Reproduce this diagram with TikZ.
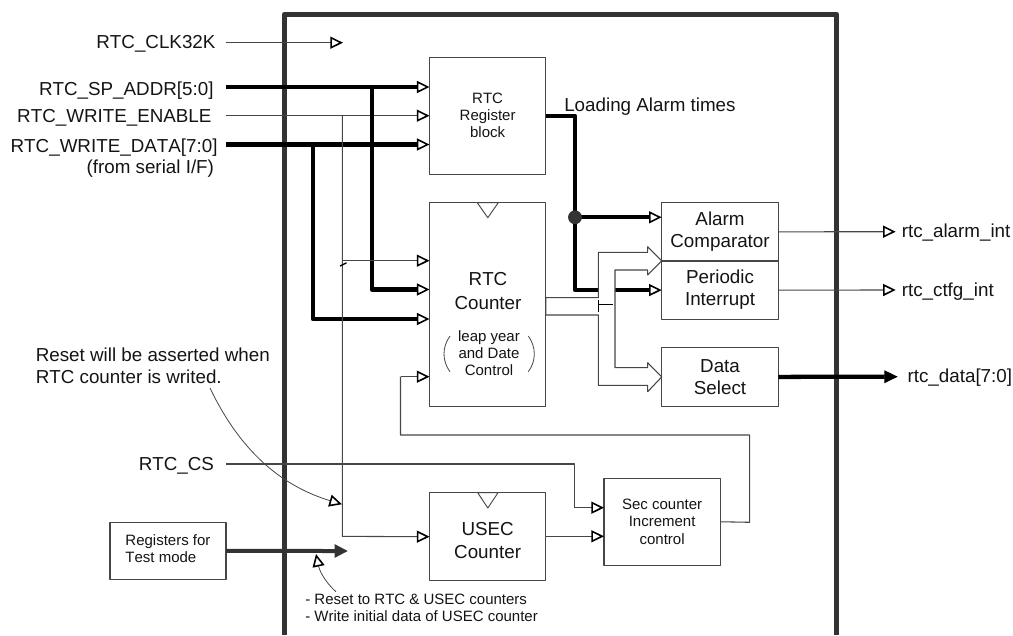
\documentclass[tikz,border=0pt]{standalone}
\usepackage{fontspec}
\setmainfont[Kerning=Off]{Liberation Sans}
\usetikzlibrary{arrows.meta,positioning,calc}
\definecolor{framegray}{RGB}{51,51,51}
\definecolor{wiregray}{RGB}{70,70,70}
\definecolor{inkblack}{RGB}{20,20,20}

\begin{document}
\begin{tikzpicture}[x=0.75pt, y=-0.75pt, line join=round,
    opentip/.tip={Triangle[open, length=9.5pt, width=9pt, line width=1.2pt, black]},
    solidtip/.tip={Triangle[length=10pt, width=9.5pt, line width=0.8pt]},
    blockbox/.style={draw=wiregray, line width=0.8pt, fill=white, inner sep=0pt, outer sep=0pt, align=center, text=inkblack},
    bigtext/.style={font=\fontsize{14.1}{16.5}\selectfont, text=inkblack},
    smalltext/.style={font=\fontsize{11.25}{12.8}\selectfont, text=inkblack},
    sigwire/.style={draw=wiregray, line width=0.8pt},
    sigarrow/.style={sigwire, -opentip},
    buswire/.style={draw=black, line width=3.2pt},
    busarrow/.style={buswire, -opentip},
    biglabel/.style={bigtext, inner sep=0pt, outer sep=0pt, anchor=base east},
    clocktri/.style={draw=wiregray, line width=0.7pt, fill=white}]
  \useasboundingbox (0,0) rectangle (1013,635);
  \draw[framegray, line width=4.2pt] (284.5,635) -- (284.5,14.5) -- (836.5,14.5) -- (836.5,635);

  \node[blockbox, smalltext, anchor=north west, minimum width=87.2pt, minimum height=87.4pt] (regbox) at (429.5,57.5) {RTC\\Register\\block};
  \node[blockbox, below=21.5pt of regbox, minimum width=87.2pt, minimum height=152.5pt] (cntbox) {};
  \node[blockbox, below=65pt of cntbox, minimum width=87.2pt, minimum height=65.5pt] (usecbox) {};
  \node[blockbox, smalltext, anchor=north west, minimum width=87.2pt, minimum height=65.2pt] (secbox) at (604,478.3) {Sec counter\\Increment\\control};
  \node[blockbox, bigtext, anchor=north west, minimum width=87.5pt, minimum height=43.7pt] (alarmbox) at (661.7,202.7) {Alarm\\Comparator};
  \node[blockbox, bigtext, below=0pt of alarmbox, minimum width=87.5pt, minimum height=43.7pt] (periodbox) {Periodic\\Interrupt};
  \node[blockbox, bigtext, below=21.4pt of periodbox, minimum width=87.5pt, minimum height=43.7pt] (selbox) {Data\\Select};
  \node[blockbox, smalltext, anchor=north west, minimum width=87pt, minimum height=43pt] (testbox) at (110,522.3) {\begin{tabular}{@{}l@{}}Registers for\\Test mode\end{tabular}};

  \node[bigtext, align=center, inner sep=0pt] (cnttext) at (488,291) {RTC\\[1pt]Counter};
  \node[bigtext, align=center, inner sep=0pt] (usectext) at ($(usecbox.center)+(0,4)$) {USEC\\[1pt]Counter};
  \node[smalltext, align=center, inner sep=0pt] (leapnote) at (489,353.5) {leap year\\and Date\\Control};
  \draw[sigwire, line width=0.6pt] (450,336) .. controls (442,347) and (442,361) .. (450,371.7);
  \draw[sigwire, line width=0.6pt] (528.3,336) .. controls (536.3,347) and (536.3,361) .. (528.3,371.7);
  \draw[clocktri] (477.3,202.7) -- (498.3,202.7) -- (487.8,217.7) -- cycle;
  \draw[clocktri] (477.7,492.7) -- (498,492.7) -- (487.8,508) -- cycle;

  \node[biglabel] (clklabel) at (215.5,48.5) {RTC\_CLK32K};
  \node[biglabel] (addrlabel) at (213.5,95) {RTC\_SP\_ADDR[5:0]};
  \node[biglabel] (wenlabel) at (211.5,122.7) {RTC\_WRITE\_ENABLE};
  \node[biglabel] (datalabel) at (217.5,152.3) {RTC\_WRITE\_DATA[7:0]};
  \node[biglabel] (seriallabel) at (214,173.3) {(from serial I/F)};
  \node[biglabel] (cslabel) at (214,470.7) {RTC\_CS};
  \node[bigtext, inner sep=0pt, anchor=base west] (loadlabel) at (564,111.7) {Loading Alarm times};
  \node[bigtext, inner sep=0pt, anchor=base west] (alarmout) at (901.5,237.7) {rtc\_alarm\_int};
  \node[bigtext, inner sep=0pt, anchor=base west] (ctfgout) at (901.5,296) {rtc\_ctfg\_int};
  \node[bigtext, inner sep=0pt, anchor=base west] (dataout) at (907.3,382.7) {rtc\_data[7:0]};
  \node[bigtext, inner sep=0pt, anchor=base west] (resetnote) at (35.5,361.7) {Reset will be asserted when};
  \node[bigtext, inner sep=0pt, anchor=base west] (resetnotetwo) at (35.5,383.3) {RTC counter is writed.};
  \node[smalltext, inner sep=0pt, anchor=base west] (testnotea) at (305,604) {- Reset to RTC \& USEC counters};
  \node[smalltext, inner sep=0pt, anchor=base west] (testnoteb) at (305,621) {- Write initial data of USEC counter};

  \coordinate (clkin) at (226,42.7);
  \coordinate (clkend) at (343,42.7);
  \coordinate (addrin) at (226,87);
  \coordinate (wenin) at (226,115.7);
  \coordinate (datain) at (226,144.5);
  \coordinate (csin) at (226,464);
  \coordinate (addrtap) at (372,87);
  \coordinate (wentap) at (342.3,115.7);
  \coordinate (datatap) at (313,144.5);
  \coordinate (loadtap) at (575,217.3);

  \draw[sigarrow] (clkin) -- (clkend);
  \draw[busarrow] (addrin) -- (addrin -| regbox.west);
  \draw[sigarrow] (wenin) -- (wenin -| regbox.west);
  \draw[busarrow] (datain) -- (datain -| regbox.west);
  \draw[busarrow] (addrtap) -- (addrtap |- 0,289.5) -- (cntbox.west |- 0,289.5);
  \draw[busarrow] (datatap) -- (datatap |- 0,319) -- (cntbox.west |- 0,319);
  \draw[sigarrow] (wentap) -- (wentap |- usecbox.west) -- (usecbox.west |- 0,536.7);
  \draw[sigarrow] (wentap |- 0,260.7) -- (cntbox.west |- 0,260.7);
  \draw[black, line width=1pt] (340,266) -- (346.5,262.8);

  \draw[buswire] (regbox.east) -- (loadtap |- regbox.east) -- (loadtap);
  \draw[busarrow] (loadtap) -- (loadtap |- periodbox.west) -- (periodbox.west);
  \draw[busarrow] (loadtap) -- (alarmbox.west |- loadtap);
  \fill[framegray] (loadtap) circle[radius=5.2pt];

  \draw[sigwire, fill=white] (cntbox.east |- 0,297.7) -- (598.3,297.7) -- (598.3,252.3) -- (647.7,252.3) -- (647.7,246.7)
    -- (alarmbox.south west) -- (647.7,275) -- (647.7,270) -- (615,270) -- (615,367.7) -- (647.7,367.7) -- (647.7,362.7)
    -- (selbox.west) -- (647.7,391.7) -- (647.7,385.3) -- (598.3,385.3) -- (598.3,315) -- (cntbox.east |- 0,315) -- cycle;
  \draw[black, line width=0.7pt] (598.3,300) -- (598.3,312);
  \draw[black, line width=0.7pt] (598.3,304) -- (613,304);

  \draw[sigarrow] (alarmbox.east) -- (895.7,231.7);
  \draw[sigarrow] (periodbox.east) -- (895.7,290);
  \draw[buswire, -solidtip] (selbox.east) -- (897.7,376.7);

  \draw[sigwire] (secbox.east) -- (749.7,522.3) -- (749.7,435) -- (400.5,435) -- (400.5,376.7);
  \draw[sigarrow] (400.5,376.7) -- (cntbox.west |- 0,376.7);
  \draw[sigwire] (csin) -- (574.7,464) -- (574.7,507.7);
  \draw[sigarrow] (574.7,507.7) -- (secbox.west |- 0,507.7);
  \draw[sigarrow] (usecbox.east |- 0,536.3) -- (secbox.west |- 0,536.3);

  \draw[framegray, line width=3pt, -{Triangle[length=10pt, width=9.5pt]}] (testbox.east) -- (348,551);
  \coordinate (resetnotetail) at (210,388);
  \coordinate (resetnotetip) at (342,504.3);
  \coordinate (testnotetail) at (336,591.7);
  \coordinate (testnotetip) at (316,554);
  \draw[sigwire, line width=0.6pt, -opentip] (resetnotetail) .. controls (242,455) and (285,487) .. (resetnotetip);
  \draw[sigwire, line width=0.6pt, -opentip] (testnotetail) .. controls (328,585) and (320,573) .. (testnotetip);
\end{tikzpicture}
\end{document}
